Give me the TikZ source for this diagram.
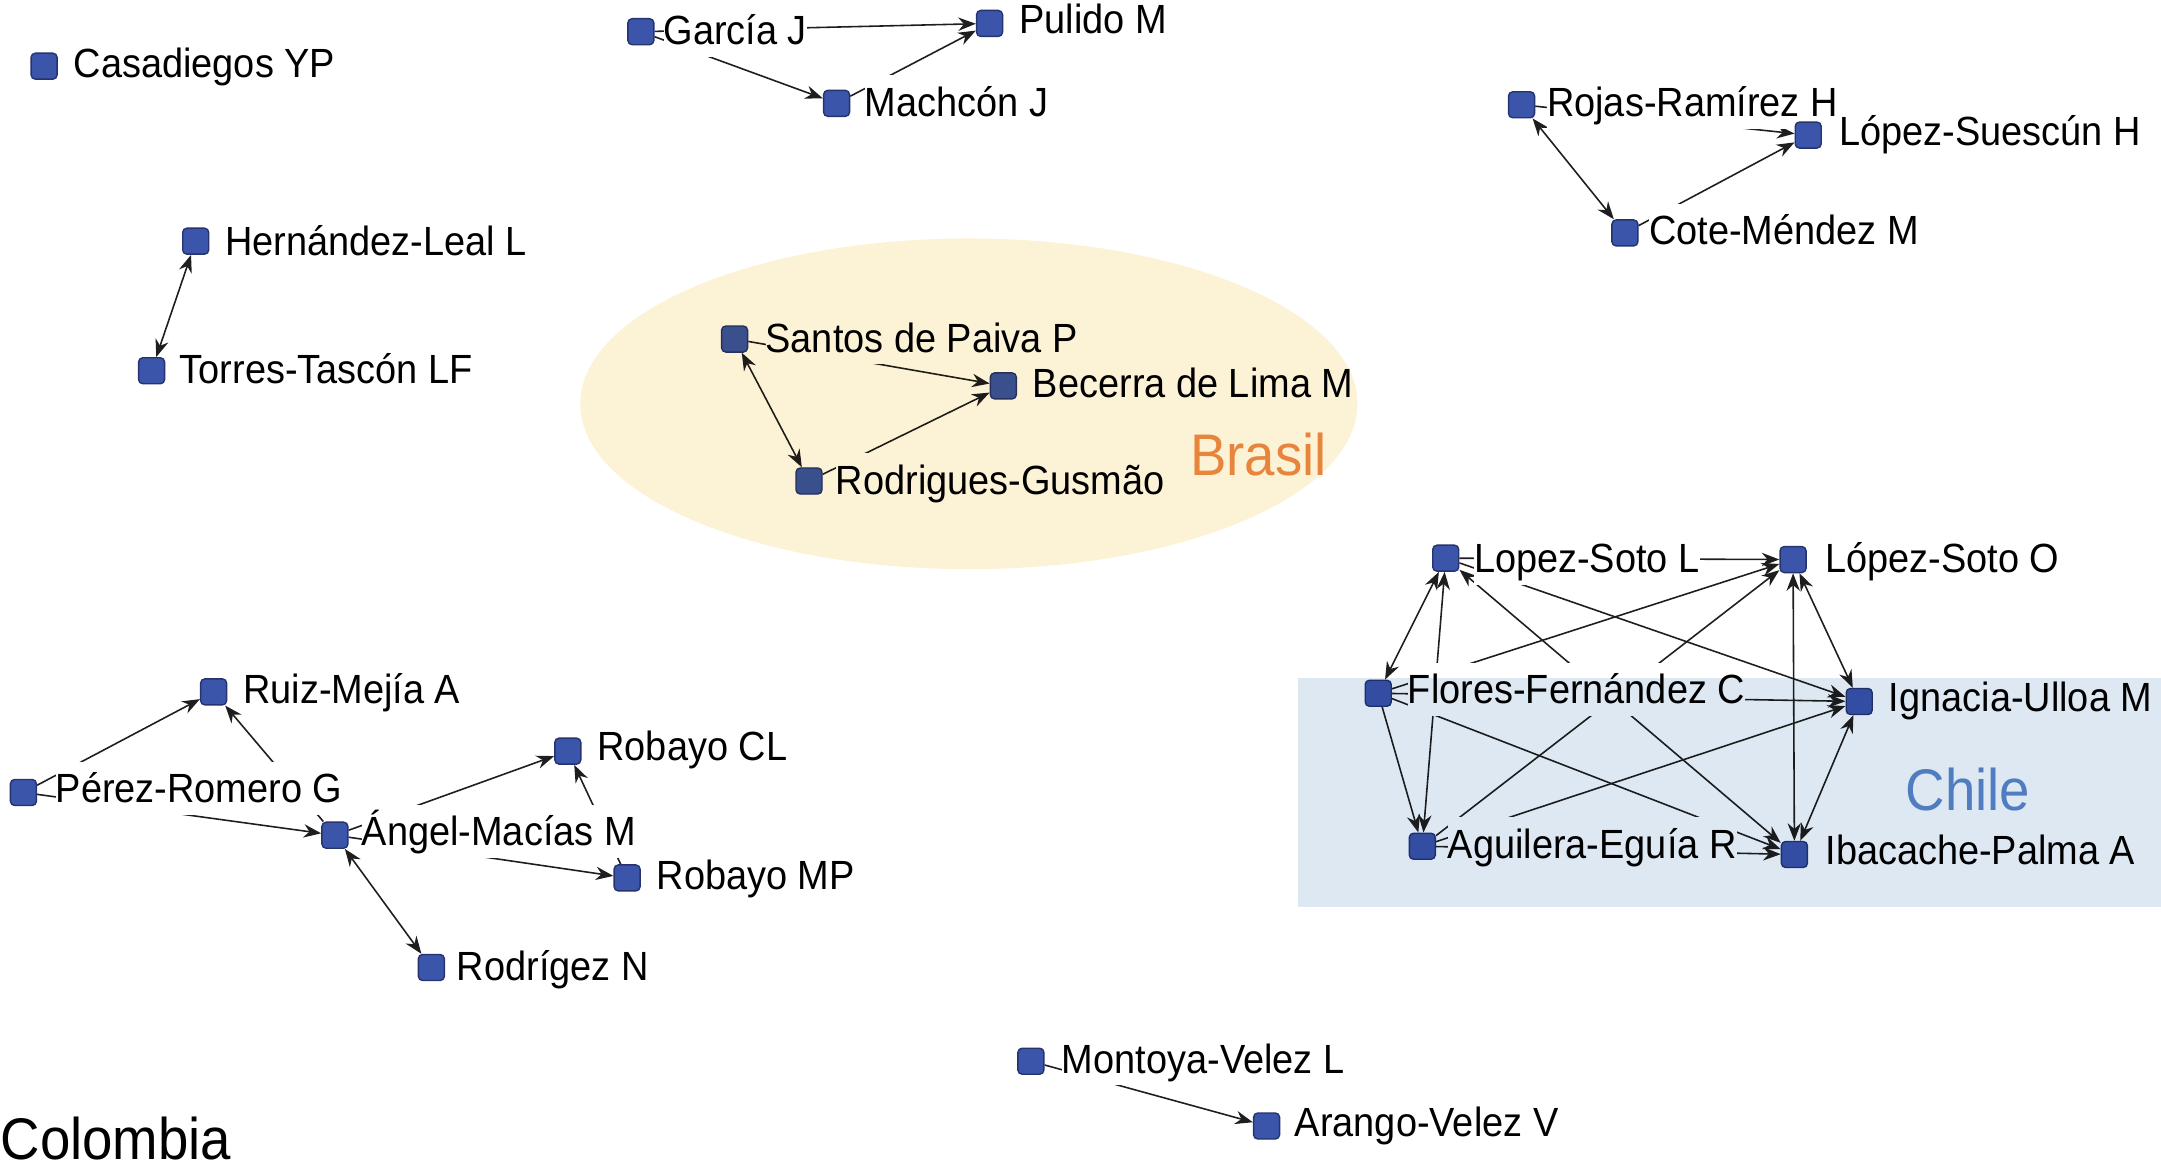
\documentclass[tikz,border=0pt]{standalone}
\usepackage{fontspec}
\setmainfont{Liberation Sans}[FakeStretch=0.93]
\usetikzlibrary{arrows.meta}

\definecolor{author_blue}{HTML}{3A55A9}
\definecolor{author_border}{HTML}{26336E}
\definecolor{edge_gray}{HTML}{1E1E1E}
\definecolor{chile_bg}{HTML}{DDE8F3}
\definecolor{chile_text}{HTML}{4F7DC0}
\definecolor{brasil_bg}{HTML}{FCF2D6}
\definecolor{brasil_text}{HTML}{E8853D}

\pgfdeclarelayer{edges}
\pgfdeclarelayer{regions}
\pgfsetlayers{edges,main,regions}

\tikzstyle{author}=[rectangle,
                    minimum size=0.26cm,
                    inner sep=0pt,
                    draw=author_border,
                    fill=author_blue,
                    rounded corners=1.2, ]
\tikzstyle{author_name}=[anchor=west,
                         fill=white,
                         inner xsep=0pt,
                         inner ysep=1pt,
                         text height=10.7pt,
                         text depth=2.4pt,
                         font=\fontsize{11.6}{13}\selectfont, ]
\tikzstyle{link}=[draw=edge_gray,
                  line width=0.45pt,
                  >={Stealth[length=5pt,width=3.8pt]},
                  ->, ]
\tikzstyle{mutual_link}=[link, <->]
\tikzstyle{country}=[font=\fontsize{16.7}{19}\selectfont, inner sep=0pt]

\begin{document}
\begin{tikzpicture}[x=0.01378cm, y=-0.01378cm]
  \useasboundingbox (0,0) rectangle (1568,849);

  % Authors
  % -------------------------------------------------------------
  \foreach \n/\x/\y/\lx/\ly/\t in {casadiegos/32/48/53/46/Casadiegos YP,
      garcia/465/23/481/22/García J,
      pulido/718/17/739/14/Pulido M,
      machcon/607/75/627/74/Machcón J,
      rojas/1104/76/1122/74/Rojas-Ramírez H,
      suescun/1312/98/1334/95/López-Suescún H,
      cote/1179/169/1196/167/Cote-Méndez M,
      hernandez/142/175/163/175/Hernández-Leal L,
      torres/110/269/130/268/Torres-Tascón LF,
      santos/533/246/555/245/Santos de Paiva P,
      becerra/728/280/749/278/Becerra de Lima M,
      rodrigues/587/349/606/348/Rodrigues-Gusmão,
      soto_l/1049/405/1069/405/Lopez-Soto L,
      soto_o/1301/406/1324/405/López-Soto O,
      flores/1000/503/1021/500/Flores-Fernández C,
      ulloa/1349/509/1370/506/Ignacia-Ulloa M,
      aguilera/1032/614/1050/612/Aguilera-Eguía R,
      ibacache/1302/620/1324/617/Ibacache-Palma A,
      ruiz/155/502/176/500/Ruiz-Mejía A,
      perez/17/575/40/572/Pérez-Romero G,
      angel/243/606/262/603/Ángel-Macías M,
      robayo_cl/412/545/433/541/Robayo CL,
      robayo_mp/455/637/476/635/Robayo MP,
      rodriguez/313/702/331/701/Rodrígez N,
      montoya/748/770/770/768/Montoya-Velez L,
      arango/919/817/939/814/Arango-Velez V} {
      \node at (\x, \y) (\n) [author] {};
      \node at (\lx, \ly) (\n_name) [author_name] {\t};
    }

  % Co-authorship links
  % -------------------------------------------------------------
  \begin{pgfonlayer}{edges}
    \foreach \a/\b in {garcia/pulido, garcia/machcon, machcon/pulido,
        rojas/suescun, cote/suescun, santos/becerra, rodrigues/becerra,
        perez/ruiz, angel/ruiz, perez/angel, angel/robayo_cl,
        robayo_mp/robayo_cl, angel/robayo_mp, montoya/arango,
        soto_l/soto_o, flores/soto_o, aguilera/soto_o, soto_l/ulloa,
        flores/ulloa, aguilera/ulloa, flores/ibacache, aguilera/ibacache,
        flores/aguilera} {
        \draw[link] (\a) -- (\b);
      }
    \foreach \a/\b in {rojas/cote, hernandez/torres, santos/rodrigues,
        angel/rodriguez, soto_l/flores, soto_l/aguilera, soto_l/ibacache,
        soto_o/ulloa, soto_o/ibacache, ulloa/ibacache} {
        \draw[mutual_link] (\a) -- (\b);
      }
  \end{pgfonlayer}

  % Countries
  % -------------------------------------------------------------
  \begin{pgfonlayer}{regions}
    \begin{scope}[blend mode=multiply]
      \fill[chile_bg] (942,492) rectangle (1568,658);
      \fill[brasil_bg] (703,293) ellipse [x radius=282, y radius=120];
    \end{scope}
    \node at (1428,573) (chile) [country, text=chile_text] {Chile};
    \node at (913,330) (brasil) [country, text=brasil_text] {Brasil};
  \end{pgfonlayer}
  \node at (0,826) (colombia) [country, anchor=west] {Colombia};
\end{tikzpicture}
\end{document}
